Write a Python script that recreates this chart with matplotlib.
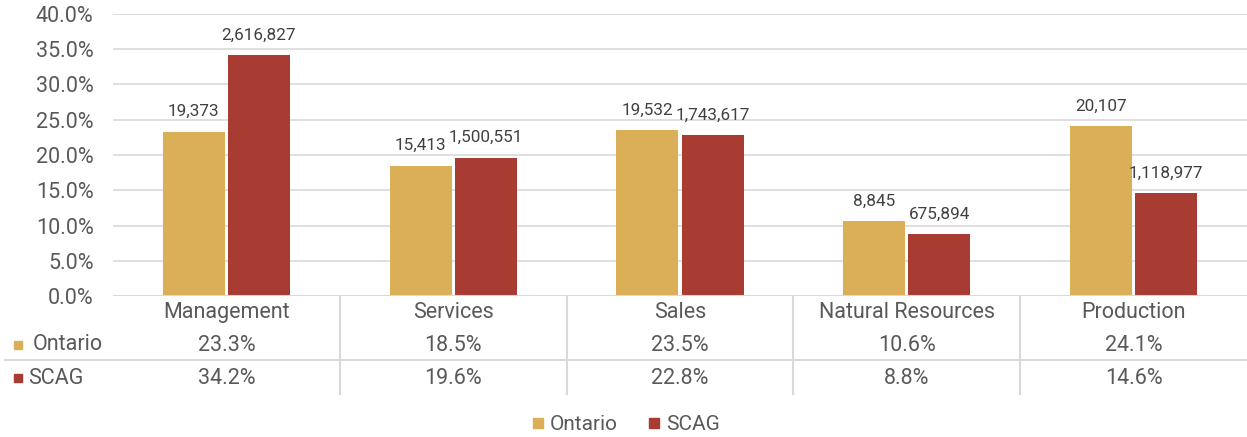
import matplotlib
matplotlib.use('Agg')
import matplotlib.pyplot as plt
import matplotlib.transforms as mtransforms
from matplotlib.lines import Line2D
import numpy as np

# data
categorias = ['Management', 'Services', 'Sales', 'Natural Resources', 'Production']
ontario_pct = [23.3, 18.5, 23.5, 10.6, 24.1]
scag_pct = [34.2, 19.6, 22.8, 8.8, 14.6]
ontario_qtd = [19373, 15413, 19532, 8845, 20107]
scag_qtd = [2616827, 1500551, 1743617, 675894, 1118977]
yticks = [0, 5, 10, 15, 20, 25, 30, 35, 40]

cor_ontario = '#DBAE58'
cor_scag = '#A93C32'
cor_texto = '#595959'
cor_grade = '#D9D9D9'

plt.rcParams['font.family'] = ['Roboto', 'DejaVu Sans']

fig = plt.figure(figsize=(12.47, 4.37), dpi=100)
ax = fig.add_axes([113 / 1247, 141 / 437, 1 - 113 / 1247, 282 / 437])

x = np.arange(len(categorias))
largura = 0.273
b1 = ax.bar(x - largura / 2 - 0.007, ontario_pct, largura, color=cor_ontario, zorder=3)
b2 = ax.bar(x + largura / 2 + 0.007, scag_pct, largura, color=cor_scag, zorder=3)

for barras, qtds in [(b1, ontario_qtd), (b2, scag_qtd)]:
    for b, q in zip(barras, qtds):
        ax.annotate(f'{q:,}', (b.get_x() + b.get_width() / 2, b.get_height()),
                    xytext=(0, 9), textcoords='offset points', ha='center', va='bottom',
                    fontsize=12.3, color='#404040')

fs = 15.5
ax.set_xlim(-0.5, len(categorias) - 0.5)
ax.set_ylim(0, 40)
ax.set_yticks(yticks)
ax.set_yticklabels([f'{v:.1f}%' for v in yticks], fontsize=fs, color=cor_texto)
ax.tick_params(axis='y', length=0, pad=14)
ax.set_xticks([])
ax.grid(axis='y', color=cor_grade, linewidth=1.2, zorder=0)
for s in ax.spines.values():
    s.set_visible(False)
ax.axhline(0, color=cor_grade, linewidth=1.5, zorder=4)

# tabela de dados abaixo do grafico
trans = mtransforms.blended_transform_factory(ax.transData, ax.transAxes)
linhas_y = {'cat': -0.060, 'ont': -0.174, 'scag': -0.291}
for i, cat in enumerate(categorias):
    ax.text(i, linhas_y['cat'], cat, transform=trans, ha='center', va='center',
            fontsize=fs, color=cor_texto)
    ax.text(i, linhas_y['ont'], f'{ontario_pct[i]:.1f}%', transform=trans, ha='center',
            va='center', fontsize=fs, color=cor_texto)
    ax.text(i, linhas_y['scag'], f'{scag_pct[i]:.1f}%', transform=trans, ha='center',
            va='center', fontsize=fs, color=cor_texto)
for i in range(len(categorias) - 1):
    ax.add_line(Line2D([i + 0.5, i + 0.5], [0, -0.348], transform=trans, color=cor_grade,
                       linewidth=1.5, clip_on=False))

fx = fig.transFigure
y_ont = 1 - 345 / 437
y_scag = 1 - 378 / 437
y_sep = 1 - 360 / 437
fig.add_artist(Line2D([5 / 1247, 1], [y_sep, y_sep], transform=fx, color=cor_grade, linewidth=1.5))
fig.add_artist(Line2D([18 / 1247], [y_ont], transform=fx, marker='s', markersize=6,
                      color=cor_ontario, linestyle='none'))
fig.add_artist(Line2D([18 / 1247], [y_scag], transform=fx, marker='s', markersize=6,
                      color=cor_scag, linestyle='none'))
fig.text(33 / 1247, y_ont, 'Ontario', ha='left', va='center', fontsize=fs, color=cor_texto)
fig.text(28 / 1247, y_scag, 'SCAG', ha='left', va='center', fontsize=fs, color=cor_texto)

# legenda inferior
handles = [Line2D([], [], marker='s', markersize=7, color=cor_ontario, linestyle='none'),
           Line2D([], [], marker='s', markersize=7, color=cor_scag, linestyle='none')]
fig.legend(handles, ['Ontario', 'SCAG'], loc='center', bbox_to_anchor=(0.5, 1 - 425 / 437),
           ncol=2, frameon=False, fontsize=15, labelcolor=cor_texto, handletextpad=0.1,
           columnspacing=1.2, handlelength=1)

plt.savefig('out.png', dpi=100)
plt.close()
